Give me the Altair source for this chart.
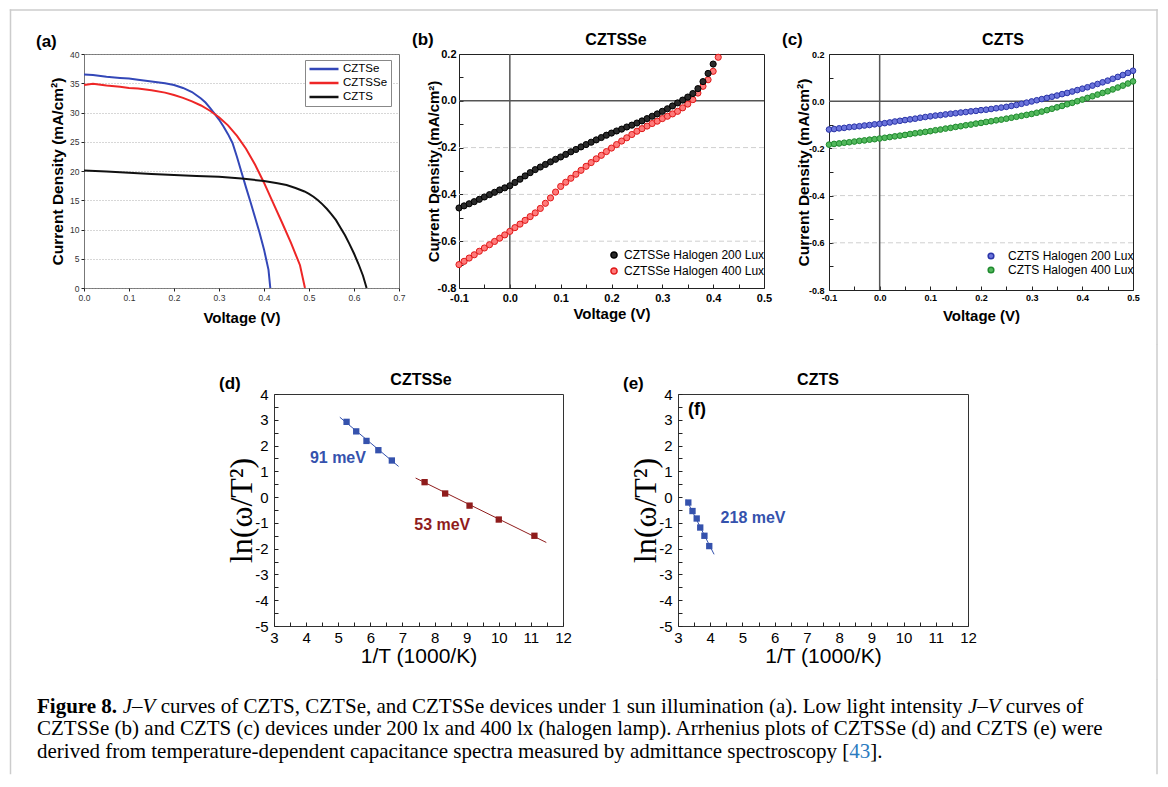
import altair as alt
import pandas as pd

SANS = "Liberation Sans"
SERIF = "Liberation Serif"

# ---------------- data: panel (a) J-V under 1 sun ----------------
a_series = ["CZTSe", "CZTSSe", "CZTS"]
a_colors = ["#3347b8", "#ee2626", "#111111"]
a_cztse_v = [0.0, 0.02, 0.05, 0.08, 0.10, 0.12, 0.15, 0.18, 0.20, 0.22, 0.24, 0.26, 0.27, 0.28, 0.29,
             0.30, 0.31, 0.32, 0.33, 0.34, 0.35, 0.36, 0.37, 0.38, 0.39, 0.40, 0.41, 0.414]
a_cztse_j = [36.5, 36.4, 36.1, 35.9, 35.8, 35.6, 35.3, 35.0, 34.7, 34.2, 33.5, 32.4, 31.7, 30.8, 29.8,
             28.8, 27.6, 26.3, 24.8, 22.4, 19.8, 17.2, 14.7, 12.1, 9.5, 6.6, 3.1, 0.0]
a_cztsse_v = [0.0, 0.02, 0.05, 0.08, 0.10, 0.12, 0.15, 0.18, 0.20, 0.22, 0.24, 0.26, 0.28, 0.30, 0.32,
              0.34, 0.36, 0.38, 0.40, 0.42, 0.44, 0.46, 0.48, 0.491]
a_cztsse_j = [34.7, 34.9, 34.6, 34.4, 34.2, 34.1, 33.8, 33.4, 33.0, 32.5, 31.9, 31.2, 30.3, 29.2, 27.8,
              26.0, 23.8, 21.1, 18.0, 14.6, 11.2, 7.7, 3.9, 0.0]
a_czts_v = [0.0, 0.05, 0.10, 0.15, 0.20, 0.25, 0.30, 0.35, 0.40, 0.43, 0.45, 0.47, 0.49, 0.50, 0.51,
            0.52, 0.53, 0.54, 0.55, 0.56, 0.57, 0.58, 0.59, 0.60, 0.61, 0.62, 0.628]
a_czts_j = [20.1, 19.9, 19.7, 19.5, 19.3, 19.15, 19.0, 18.7, 18.3, 17.9, 17.6, 17.1, 16.5, 16.1, 15.6,
            15.0, 14.3, 13.5, 12.6, 11.6, 10.3, 9.0, 7.5, 5.9, 4.1, 2.1, 0.0]
a_xticks = [0.0, 0.1, 0.2, 0.3, 0.4, 0.5, 0.6, 0.7]
a_yticks = [0, 5, 10, 15, 20, 25, 30, 35, 40]

# ---------------- data: panel (b) CZTSSe low light ----------------
b_series = ["CZTSSe Halogen 200 Lux", "CZTSSe Halogen 400 Lux"]
b_v = [-0.10, -0.09, -0.08, -0.07, -0.06, -0.05, -0.04, -0.03, -0.02, -0.01, 0.00,
       0.01, 0.02, 0.03, 0.04, 0.05, 0.06, 0.07, 0.08, 0.09, 0.10,
       0.11, 0.12, 0.13, 0.14, 0.15, 0.16, 0.17, 0.18, 0.19, 0.20,
       0.21, 0.22, 0.23, 0.24, 0.25, 0.26, 0.27, 0.28, 0.29, 0.30,
       0.31, 0.32, 0.33, 0.34, 0.35, 0.36, 0.37, 0.38, 0.39, 0.40, 0.41]
b_j200 = [-0.458, -0.449, -0.440, -0.431, -0.421, -0.411, -0.401, -0.391, -0.381, -0.372, -0.363,
          -0.349, -0.335, -0.321, -0.307, -0.294, -0.283, -0.272, -0.261, -0.250, -0.240,
          -0.229, -0.218, -0.208, -0.197, -0.187, -0.177, -0.167, -0.157, -0.147, -0.138,
          -0.129, -0.121, -0.112, -0.104, -0.095, -0.086, -0.076, -0.066, -0.056, -0.045,
          -0.034, -0.022, -0.009, 0.003, 0.016, 0.031, 0.052, 0.082, 0.117, 0.157]
b_j400 = [-0.700, -0.686, -0.672, -0.658, -0.643, -0.629, -0.615, -0.601, -0.587, -0.573, -0.558,
          -0.542, -0.527, -0.511, -0.495, -0.479, -0.460, -0.438, -0.415, -0.390, -0.366,
          -0.348, -0.331, -0.314, -0.297, -0.280, -0.264, -0.248, -0.233, -0.217, -0.202,
          -0.187, -0.172, -0.158, -0.144, -0.130, -0.119, -0.108, -0.097, -0.087, -0.076,
          -0.066, -0.056, -0.045, -0.030, -0.014, 0.005, 0.033, 0.062, 0.090, 0.126, 0.186]
bc_xticks = [-0.1, -0.05, 0.0, 0.05, 0.1, 0.15, 0.2, 0.25, 0.3, 0.35, 0.4, 0.45, 0.5]
bc_yticks = [-0.8, -0.7, -0.6, -0.5, -0.4, -0.3, -0.2, -0.1, 0.0, 0.1, 0.2]
bc_grid = [-0.6, -0.4, -0.2]
bc_zero = [0.0]

# ---------------- data: panel (c) CZTS low light ----------------
c_series = ["CZTS Halogen 200 Lux", "CZTS Halogen 400 Lux"]
c_v = [-0.10, -0.09, -0.08, -0.07, -0.06, -0.05, -0.04, -0.03, -0.02, -0.01, 0.00,
       0.01, 0.02, 0.03, 0.04, 0.05, 0.06, 0.07, 0.08, 0.09, 0.10,
       0.11, 0.12, 0.13, 0.14, 0.15, 0.16, 0.17, 0.18, 0.19, 0.20,
       0.21, 0.22, 0.23, 0.24, 0.25, 0.26, 0.27, 0.28, 0.29, 0.30,
       0.31, 0.32, 0.33, 0.34, 0.35, 0.36, 0.37, 0.38, 0.39, 0.40,
       0.41, 0.42, 0.43, 0.44, 0.45, 0.46, 0.47, 0.48, 0.49, 0.50]
c_j200 = [-0.120, -0.118, -0.115, -0.113, -0.110, -0.108, -0.106, -0.103, -0.101, -0.098, -0.096,
          -0.093, -0.090, -0.086, -0.083, -0.080, -0.077, -0.074, -0.070, -0.067, -0.064,
          -0.061, -0.059, -0.056, -0.053, -0.051, -0.048, -0.046, -0.043, -0.041, -0.038,
          -0.036, -0.033, -0.030, -0.027, -0.024, -0.020, -0.016, -0.011, -0.006, -0.001,
          0.004, 0.009, 0.014, 0.019, 0.024, 0.030, 0.035, 0.041, 0.047, 0.053,
          0.059, 0.066, 0.073, 0.080, 0.087, 0.095, 0.103, 0.111, 0.120, 0.129]
c_j400 = [-0.184, -0.181, -0.179, -0.176, -0.174, -0.171, -0.168, -0.166, -0.163, -0.161, -0.158,
          -0.155, -0.152, -0.149, -0.146, -0.143, -0.139, -0.136, -0.133, -0.130, -0.127,
          -0.123, -0.120, -0.116, -0.113, -0.109, -0.106, -0.102, -0.099, -0.095, -0.092,
          -0.088, -0.085, -0.081, -0.078, -0.074, -0.070, -0.066, -0.062, -0.058, -0.054,
          -0.049, -0.044, -0.038, -0.032, -0.026, -0.020, -0.013, -0.007, 0.000, 0.007,
          0.014, 0.021, 0.028, 0.035, 0.042, 0.050, 0.058, 0.066, 0.075, 0.084]

# ---------------- data: panels (d), (e) Arrhenius ----------------
d_hi_x = [5.26, 5.56, 5.88, 6.25, 6.67]
d_hi_y = [2.92, 2.55, 2.18, 1.82, 1.42]
d_lo_x = [7.69, 8.33, 9.09, 10.0, 11.11]
d_lo_y = [0.58, 0.14, -0.33, -0.87, -1.50]
d_fit_hi_x = [5.05, 6.88]
d_fit_hi_y = [3.10, 1.19]
d_fit_lo_x = [7.41, 11.48]
d_fit_lo_y = [0.74, -1.76]
d_labels = ["91 meV", "53 meV"]
d_label_x = [4.99, 8.24]
d_label_y = [1.52, -1.10]

e_x = [3.32, 3.45, 3.58, 3.69, 3.82, 3.97]
e_y = [-0.21, -0.54, -0.83, -1.18, -1.50, -1.90]
e_fit_x = [3.26, 4.12]
e_fit_y = [-0.10, -2.22]
e_labels = ["218 meV"]
e_label_x = [5.33]
e_label_y = [-0.81]
f_tag_x = [3.59]
f_tag_y = [3.37]

de_xticks = [3, 3.5, 4, 4.5, 5, 5.5, 6, 6.5, 7, 7.5, 8, 8.5, 9, 9.5, 10, 10.5, 11, 11.5, 12]
de_yticks = [-5, -4.5, -4, -3.5, -3, -2.5, -2, -1.5, -1, -0.5, 0, 0.5, 1, 1.5, 2, 2.5, 3, 3.5, 4]

# ---------------- caption ----------------
caption_lines = [
    [("Figure 8.", "bold", "#000"), (" ", "normal", "#000"), ("J\u2013V", "italic", "#000"),
     (" curves of CZTS, CZTSe, and CZTSSe devices under 1 sun illumination (a). Low light intensity ", "normal", "#000"),
     ("J\u2013V", "italic", "#000"), (" curves of", "normal", "#000")],
    [("CZTSSe (b) and CZTS (c) devices under 200 lx and 400 lx (halogen lamp). Arrhenius plots of CZTSSe (d) and CZTS (e) were", "normal", "#000")],
    [("derived from temperature-dependent capacitance spectra measured by admittance spectroscopy [", "normal", "#000"),
     ("43", "normal", "#2b7bbf"), ("].", "normal", "#000")],
]

# ---------------- helpers ----------------
ONE = pd.DataFrame({"k": [0]})
FRAME = "#cccccc"
FR_L, FR_T, FR_R = -73.5, -44, 1073
INDEP = dict(color="independent", fill="independent", stroke="independent")


def lin(domain):
    return alt.Scale(domain=domain, nice=False, zero=False)


def lab_expr(mult, mod, fmt):
    return ("abs(round(datum.value*%s)) %% %d == 0 ? (datum.value < 0 ? '-' : '') + "
            "format(abs(datum.value), '%s') : ''" % (mult, mod, fmt))


def text_at(text, x, y, size, weight="bold", align="left", color="#000", font=SANS):
    return alt.Chart(pd.DataFrame({"t": [text]})).mark_text(
        align=align, baseline="middle", fontSize=size, fontWeight=weight, font=font, color=color
    ).encode(text="t:N", x=alt.value(x), y=alt.value(y))


def vrule(x, y1, y2):
    return alt.Chart(ONE).mark_rule(color=FRAME, strokeWidth=1.5, strokeCap="square").encode(
        x=alt.value(x), y=alt.value(y1), y2=alt.value(y2))


def side_rules(y1, y2):
    return [vrule(FR_L, y1, y2), vrule(FR_R, y1, y2)]


def spacer(w, h, extra=()):
    base = alt.Chart(ONE).mark_point(opacity=0).encode(x=alt.value(0), y=alt.value(0))
    return alt.layer(base, *extra).properties(
        width=w, height=h, view=alt.ViewBackground(stroke="transparent"))


# ---------------- panel (a) ----------------
frame_top = alt.Chart(ONE).mark_rule(color=FRAME, strokeWidth=1.5, strokeCap="square").encode(
    x=alt.value(FR_L), x2=alt.value(FR_R), y=alt.value(FR_T))

df_a = pd.DataFrame({
    "V": a_cztse_v + a_cztsse_v + a_czts_v,
    "J": a_cztse_j + a_cztsse_j + a_czts_j,
    "device": [a_series[0]] * len(a_cztse_v) + [a_series[1]] * len(a_cztsse_v) + [a_series[2]] * len(a_czts_v),
})
a_lines = alt.Chart(df_a).mark_line(strokeWidth=2).encode(
    x=alt.X("V:Q", scale=lin([0, 0.7]), axis=alt.Axis(
        values=a_xticks, format=".1f", labelFontSize=8.5, labelColor="#333", labelPadding=2, tickSize=3,
        title="Voltage (V)", titleFontSize=15, titleFontWeight="bold", titleY=29, titleBaseline="middle",
        grid=False)),
    y=alt.Y("J:Q", scale=lin([0, 40]), axis=alt.Axis(
        values=a_yticks, format="d", labelFontSize=8.5, labelColor="#333", labelPadding=2, tickSize=3,
        grid=True, gridDash=[1, 2], gridColor="#999", gridWidth=0.8,
        title="Current Density (mA/cm\u00b2)", titleFontSize=15.5, titleFontWeight="bold",
        titleX=-27, titleBaseline="middle")),
    color=alt.Color("device:N", scale=alt.Scale(domain=a_series, range=a_colors), legend=alt.Legend(
        title=None, orient="none", legendX=221, legendY=6, strokeColor="#888", fillColor="white",
        padding=3, labelFontSize=11.5, labelFont=SANS, symbolType="stroke", symbolSize=841,
        symbolStrokeWidth=2.5, clipHeight=12, rowPadding=2, labelOffset=3)),
)
panel_a = alt.layer(
    frame_top, *side_rules(FR_T, 290), a_lines, text_at("(a)", -48, -12, 17)
).properties(width=315, height=234, view=alt.ViewBackground(stroke="#777", strokeWidth=1))


# ---------------- panels (b), (c) ----------------
def low_light_panel(df, series, fills, strokes, title, tag, title_x, width, height,
                    xlab_pad, ylab_pad, lab_size, ytitle_size, legend_x, legend_y, legend_off, pt_size):
    xax = alt.Axis(values=bc_xticks, labelExpr=lab_expr(100, 10, ".1f"), labelFontSize=lab_size,
                   labelFontWeight="bold", labelPadding=xlab_pad, tickSize=4, offset=-4,
                   title="Voltage (V)", titleFontSize=15, titleFontWeight="bold", titleY=29.25,
                   titleBaseline="middle", grid=False)
    yax = alt.Axis(values=bc_yticks, labelExpr=lab_expr(10, 2, ".1f"), labelFontSize=lab_size,
                   labelFontWeight="bold", labelPadding=ylab_pad, tickSize=4, offset=-4,
                   title="Current Density (mA/cm\u00b2)", titleFontSize=ytitle_size, titleFontWeight="bold",
                   titleX=-29.75, titleBaseline="middle", grid=False)
    X = alt.X("V:Q", scale=lin([-0.1, 0.5]), axis=xax)
    Y = alt.Y("J:Q", scale=lin([-0.8, 0.2]), axis=yax)
    leg = alt.Legend(title=None, orient="none", legendX=legend_x, legendY=legend_y, labelFontSize=12,
                     labelFont=SANS, symbolType="circle", symbolSize=pt_size, labelOffset=legend_off,
                     rowPadding=2, padding=0)
    grid = alt.Chart(pd.DataFrame({"J": bc_grid})).mark_rule(
        color="#cfcfcf", strokeDash=[5, 3], strokeWidth=1).encode(y=Y)
    zero_h = alt.Chart(pd.DataFrame({"J": bc_zero})).mark_rule(color="#555", strokeWidth=1.5).encode(y=Y)
    zero_v = alt.Chart(pd.DataFrame({"V": bc_zero})).mark_rule(color="#555", strokeWidth=1.5).encode(x=X)
    pts = alt.Chart(df).mark_circle(size=pt_size, strokeWidth=1, opacity=1).encode(
        x=X, y=Y,
        fill=alt.Fill("series:N", scale=alt.Scale(domain=series, range=fills), legend=leg),
        stroke=alt.Stroke("series:N", scale=alt.Scale(domain=series, range=strokes), legend=leg),
    )
    return alt.layer(
        grid, zero_h, zero_v, pts,
        text_at(title, title_x, -14, 16, align="center"),
        text_at(tag, -47, -14, 17),
    ).properties(width=width, height=height, view=alt.ViewBackground(stroke="#222", strokeWidth=1))


df_b = pd.DataFrame({
    "V": b_v + b_v[:len(b_j200)],
    "J": b_j400 + b_j200,
    "series": [b_series[1]] * len(b_j400) + [b_series[0]] * len(b_j200),
})
panel_b = low_light_panel(df_b, b_series, ["#2a2a2a", "#ff7a7a"], ["#000000", "#e01818"],
                          "CZTSSe", "(b)", 157, 305, 234, 4, 3, 11, 15, 149, 195, 4, 38)

df_c = pd.DataFrame({
    "V": c_v + c_v,
    "J": c_j200 + c_j400,
    "series": [c_series[0]] * len(c_j200) + [c_series[1]] * len(c_j400),
})
panel_c = low_light_panel(df_c, c_series, ["#6b74db", "#52b85c"], ["#2b35a8", "#1f8a2e"],
                          "CZTS", "(c)", 174, 304, 236, 3, 5, 9, 15.5, 156, 196, 11, 32)


# ---------------- panels (d), (e) ----------------
def arrhenius_axes():
    xax = alt.Axis(values=de_xticks, labelExpr=lab_expr(2, 2, "d"), labelFontSize=15, labelPadding=4,
                   tickSize=4, offset=-4, title="1/T (1000/K)", titleFontSize=21, titleFontWeight="normal",
                   titleY=34.5, titleBaseline="middle", grid=False)
    yax = alt.Axis(values=de_yticks, labelExpr=lab_expr(2, 2, "d"), labelFontSize=15, labelPadding=6,
                   tickSize=4, offset=-4, title="ln(\u03c9/T\u00b2)", titleFont=SERIF, titleFontSize=32,
                   titleFontWeight="normal", titleX=-36.75, titleBaseline="middle", grid=False)
    return xax, yax


def arrhenius_panel(pts_df, fit_df, lab_df, groups, colors, extra, title, title_x, tag, width):
    xax, yax = arrhenius_axes()
    col = alt.Color("grp:N", scale=alt.Scale(domain=groups, range=colors), legend=None)
    X = alt.X("x:Q", scale=lin([3, 12]), axis=xax)
    Y = alt.Y("y:Q", scale=lin([-5, 4]), axis=yax)
    fit = alt.Chart(fit_df).mark_line(strokeWidth=1).encode(x=X, y=Y, color=col, detail="grp:N")
    sq = alt.Chart(pts_df).mark_square(size=40, opacity=1).encode(x=X, y=Y, color=col)
    lab = alt.Chart(lab_df).mark_text(fontSize=16, fontWeight="bold", font=SANS).encode(
        x=X, y=Y, text="t:N", color=col)
    return alt.layer(
        fit, sq, lab, *extra,
        text_at(title, title_x, -14, 16, align="center"),
        text_at(tag, -55, -10, 17),
    ).properties(width=width, height=232, view=alt.ViewBackground(stroke="#333", strokeWidth=1))


d_pts = pd.DataFrame({"x": d_hi_x + d_lo_x, "y": d_hi_y + d_lo_y,
                      "grp": ["high"] * len(d_hi_x) + ["low"] * len(d_lo_x)})
d_fit = pd.DataFrame({"x": d_fit_hi_x + d_fit_lo_x, "y": d_fit_hi_y + d_fit_lo_y,
                      "grp": ["high"] * 2 + ["low"] * 2})
d_lab = pd.DataFrame({"x": d_label_x, "y": d_label_y, "t": d_labels, "grp": ["high", "low"]})
panel_d = arrhenius_panel(d_pts, d_fit, d_lab, ["high", "low"], ["#3552ad", "#8f1c1c"], [],
                          "CZTSSe", 147, "(d)", 289)

e_pts = pd.DataFrame({"x": e_x, "y": e_y, "grp": ["one"] * len(e_x)})
e_fit = pd.DataFrame({"x": e_fit_x, "y": e_fit_y, "grp": ["one"] * 2})
e_lab = pd.DataFrame({"x": e_label_x, "y": e_label_y, "t": e_labels, "grp": ["one"]})
xax_e, yax_e = arrhenius_axes()
f_tag = alt.Chart(pd.DataFrame({"x": f_tag_x, "y": f_tag_y, "t": ["(f)"]})).mark_text(
    fontSize=18, fontWeight="bold", font=SANS, color="#000").encode(
    x=alt.X("x:Q", scale=lin([3, 12]), axis=xax_e), y=alt.Y("y:Q", scale=lin([-5, 4]), axis=yax_e), text="t:N")
panel_e = arrhenius_panel(e_pts, e_fit, e_lab, ["one"], ["#3552ad"], [f_tag],
                          "CZTS", 140, "(e)", 290)

# ---------------- caption ----------------
CAP_SIZE = 21
CAP_X = -47
CAP_Y = [12.5, 35, 57.5]
TR = {" ": 250, "(": 333, ")": 333, ",": 250, "-": 333, ".": 250, "/": 278, ":": 278, "[": 333, "]": 333,
      "\u2013": 500}
for ch in "0123456789":
    TR[ch] = 500
TR.update(dict(zip("ABCDEFGHIJKLMNOPQRSTUVWXYZ",
                   [722, 667, 667, 722, 611, 556, 722, 722, 333, 389, 722, 611, 889, 722, 722, 556, 722, 667,
                    556, 611, 722, 722, 944, 722, 722, 611])))
TR.update(dict(zip("abcdefghijklmnopqrstuvwxyz",
                   [444, 500, 444, 500, 444, 333, 500, 500, 278, 278, 500, 278, 778, 500, 500, 500, 500, 333,
                    389, 278, 500, 500, 722, 500, 500, 444])))
TB = {"F": 611, "i": 278, "g": 500, "u": 556, "r": 444, "e": 444, " ": 250, "8": 500, ".": 250}
TI = {"J": 444, "\u2013": 500, "V": 611}


def seg_width(s, style):
    table = dict(TR)
    if style == "bold":
        table.update(TB)
    elif style == "italic":
        table.update(TI)
    return sum(table.get(c, 500) for c in s) * CAP_SIZE / 1000.0


cap_rows = []
for li, segs in enumerate(caption_lines):
    cur = 0.0
    for txt, style, color in segs:
        lead = len(txt) - len(txt.lstrip(" "))
        body = txt.strip(" ")
        if body:
            cap_rows.append({"t": body, "px": CAP_X + cur + seg_width(" " * lead, "normal"),
                             "py": CAP_Y[li], "style": style, "col": color})
        cur += seg_width(txt, style)
cap_df = pd.DataFrame(cap_rows)
cap_layers = []
for style, weight, fstyle in [("normal", "normal", "normal"), ("bold", "bold", "normal"),
                              ("italic", "normal", "italic")]:
    sub = cap_df[cap_df["style"] == style]
    cap_layers.append(alt.Chart(sub).mark_text(
        align="left", baseline="alphabetic", font=SERIF, fontSize=CAP_SIZE, fontWeight=weight,
        fontStyle=fstyle).encode(
        x=alt.X("px:Q", scale=None, axis=None), y=alt.Y("py:Q", scale=None, axis=None),
        text="t:N", color=alt.Color("col:N", scale=None)))
caption = alt.layer(*side_rules(-20, 73.5), *cap_layers).properties(
    width=10, height=10, view=alt.ViewBackground(stroke="transparent"))

# ---------------- layout ----------------
row1 = alt.hconcat(
    panel_a, spacer(60, 234), panel_b, spacer(65, 234), panel_c, spacing=0, bounds="flush"
).resolve_scale(**INDEP).resolve_legend(**INDEP)
row2 = alt.hconcat(
    spacer(190, 232, side_rules(-49, 285)), panel_d, spacer(115, 232), panel_e, spacing=0, bounds="flush"
).resolve_scale(**INDEP).resolve_legend(**INDEP)

chart = alt.vconcat(row1, row2, caption, spacing=-3).resolve_scale(**INDEP).resolve_legend(**INDEP).properties(
    padding=0, background="white"
).configure(
    font=SANS
).configure_axis(
    domain=False, labelFlush=False, labelOverlap=False, labelColor="#000", titleColor="#000",
    tickColor="#222", labelFont=SANS, titleFont=SANS
).configure_legend(
    labelFont=SANS
)

chart.save("out.html", embed_options={"renderer": "svg", "actions": False})
